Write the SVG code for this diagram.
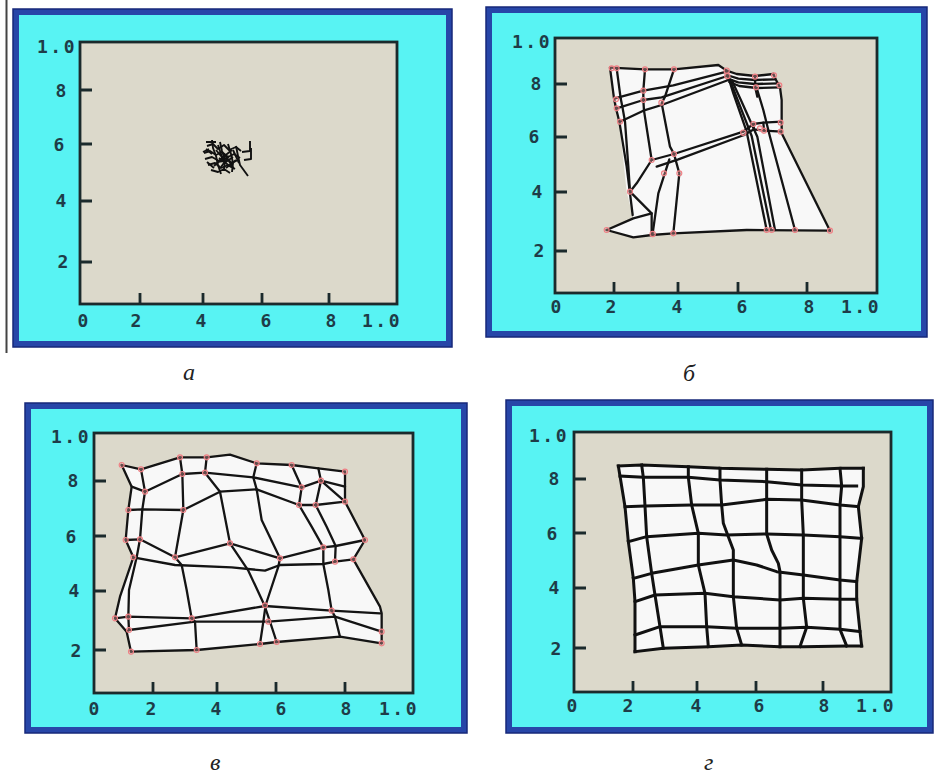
<svg xmlns="http://www.w3.org/2000/svg" width="935" height="775" viewBox="0 0 935 775">
<style>
.page{fill:#ffffff}
.frame{fill:#2746a8;stroke:#17287a;stroke-width:1.5}
.cyan{fill:#58f3f3}
.plot{fill:#dcd9cb;stroke:#1b2a2c;stroke-width:2.8}
.tick{stroke:#1b2a2c;stroke-width:2.8}
.lbl{font-family:"DejaVu Sans Mono",monospace;font-weight:bold;font-size:18px;fill:#1e3c48;text-anchor:middle}
.lbl1{font-family:"DejaVu Sans Mono",monospace;font-weight:bold;font-size:18px;fill:#1e3c48;letter-spacing:2.5px}
.mesh{fill:none;stroke:#141414;stroke-width:2.3;stroke-linejoin:round;stroke-linecap:round;vector-effect:non-scaling-stroke}
.meshd{fill:none;stroke:#111;stroke-width:3;stroke-linejoin:round;stroke-linecap:square;vector-effect:non-scaling-stroke}
.tangle{fill:none;stroke:#111;stroke-width:1.9;stroke-linejoin:round}
.white{fill:#f8f8f8;stroke:none}
.node{fill:#f6b0b0;fill-opacity:0.35;stroke:#ef7f84;stroke-width:1.1;vector-effect:non-scaling-stroke}
.cap{font-family:"Liberation Serif",serif;font-style:italic;font-size:24px;fill:#222}
</style>
<rect class="page" x="0" y="0" width="935" height="775"/>
<line x1="6.5" y1="0" x2="6.5" y2="353" stroke="#444" stroke-width="2"/>

<!-- Panel a -->
<g id="panel-a">
  <rect class="frame" x="13" y="9" width="439" height="338"/>
  <rect class="cyan" x="19" y="15" width="427" height="326"/>
  <rect class="plot" x="80" y="42" width="317" height="262"/>
  <path class="tick" d="M80,90h12M80,144h12M80,201h12M80,262h12M140,304v-11M203,304v-11M262,304v-11M329,304v-11"/>
  <text class="lbl1" x="37" y="53">1.0</text>
  <text class="lbl" x="61" y="97">8</text>
  <text class="lbl" x="59" y="151">6</text>
  <text class="lbl" x="61" y="207">4</text>
  <text class="lbl" x="63" y="268">2</text>
  <text class="lbl" x="83" y="327">0</text>
  <text class="lbl" x="136" y="327">2</text>
  <text class="lbl" x="201" y="327">4</text>
  <text class="lbl" x="266" y="327">6</text>
  <text class="lbl" x="331" y="327">8</text>
  <text class="lbl1" x="362" y="327">1.0</text>
  <g id="tangle">
    <path class="tangle" d="M207,146 L213,144 L218,149 L224,145 L229,150 L236,147 L241,151"/>
    <path class="tangle" d="M204,153 L210,151 L216,155 L222,152 L228,157 L234,154 L240,158"/>
    <path class="tangle" d="M205,159 L212,157 L219,161 L226,158 L232,163 L238,160"/>
    <path class="tangle" d="M208,165 L215,163 L221,168 L228,165 L235,169"/>
    <path class="tangle" d="M211,170 L218,172 L224,169 L230,173"/>
    <path class="tangle" d="M212,140 L213,148 L216,156 L218,165 L221,174"/>
    <path class="tangle" d="M220,142 L222,151 L225,160 L224,170"/>
    <path class="tangle" d="M228,144 L231,154 L233,163 L232,172"/>
    <path class="tangle" d="M236,146 L238,156 L240,165 L248,176"/>
    <path class="tangle" d="M242,152 L250,151 L250,141"/>
    <path class="tangle" d="M244,160 L251,159 L251,148"/>
    <path class="tangle" d="M216,150 L226,162 M222,158 L232,150 M214,166 L224,156 M226,168 L236,160 M209,149 L203,152 M206,142 L216,142 M206,149 L212,154 M207,162 L214,168 M233,150 L239,163 M218,145 L222,157"/>
    <path class="tangle" d="M219,158 L231,167 M223,164 L233,157 M225,155 L234,169 M217,162 L230,160 M221,167 L229,156" stroke-width="3"/>
  </g>
</g>

<!-- Panel b -->
<g id="panel-b">
  <rect class="frame" x="486" y="7" width="441" height="330"/>
  <rect class="cyan" x="492" y="13" width="429" height="318"/>
  <rect class="plot" x="555" y="38" width="322" height="255"/>
  <path class="tick" d="M555,84h12M555,137h12M555,192h12M555,251h12M614,293v-11M678,293v-11M738,293v-11M807,293v-11"/>
  <text class="lbl1" x="512" y="48">1.0</text>
  <text class="lbl" x="536" y="90">8</text>
  <text class="lbl" x="534" y="143">6</text>
  <text class="lbl" x="537" y="198">4</text>
  <text class="lbl" x="539" y="257">2</text>
  <text class="lbl" x="556" y="313">0</text>
  <text class="lbl" x="611" y="313">2</text>
  <text class="lbl" x="677" y="313">4</text>
  <text class="lbl" x="742" y="313">6</text>
  <text class="lbl" x="809" y="313">8</text>
  <text class="lbl1" x="841" y="313">1.0</text>
  <g id="mesh-b" transform="translate(470,0) scale(0.33333)">
    <polygon class="white" points="420,203 525,208 612,208 745,195 770,210 800,222 855,228 910,222 918,240 930,262 935,300 935,400 1080,692 890,690 830,690 610,700 545,705 490,712 410,690 490,655 470,575 448,365 432,295"/>
    <polyline class="mesh" points="420,203 525,208 612,208 745,195 770,212"/>
    <polyline class="mesh" points="770,212 800,222 855,228 910,222"/>
    <polyline class="mesh" points="770,225 805,236 855,240 915,238"/>
    <polyline class="mesh" points="772,236 805,247 855,252 925,250"/>
    <polyline class="mesh" points="778,246 808,258 860,264 930,262"/>
    <polyline class="mesh" points="910,222 918,240 930,262 935,300 935,400"/>
    <polyline class="mesh" points="855,228 856,264 862,290"/>
    <polyline class="mesh" points="420,203 432,295 438,325 448,365 470,500 488,645"/>
    <polyline class="mesh" points="440,205 452,295 458,325 465,365 475,500 480,575"/>
    <polyline class="mesh" points="435,295 520,272 610,256 770,215"/>
    <polyline class="mesh" points="440,325 520,300 575,292 772,228"/>
    <polyline class="mesh" points="450,365 520,332 575,315 775,240"/>
    <polyline class="mesh" points="525,208 520,272 520,300 522,332 545,480"/>
    <polyline class="mesh" points="612,208 585,290 575,310 600,440 612,462 628,520 610,700"/>
    <polyline class="mesh" points="545,480 612,462 820,395"/>
    <polyline class="mesh" points="560,500 625,478 822,405"/>
    <polyline class="mesh" points="545,480 500,550 480,575"/>
    <polyline class="mesh" points="480,575 545,640 545,705"/>
    <polyline class="mesh" points="598,478 565,580 548,700"/>
    <polyline class="mesh" points="410,690 490,655 545,640"/>
    <polyline class="mesh" points="410,690 490,712 545,705 610,700 830,690 1080,692"/>
    <polyline class="mesh" points="770,215 790,280 830,395 890,690"/>
    <polyline class="mesh" points="775,228 800,292 845,408 903,690"/>
    <polyline class="mesh" points="785,240 815,305 862,410 915,690"/>
    <polyline class="mesh" points="860,264 880,330 900,410 975,690"/>
    <polyline class="mesh" points="935,400 1080,692"/>
    <polyline class="mesh" points="820,395 850,372 880,368 935,365"/>
    <polyline class="mesh" points="822,405 852,388 882,392 935,395"/>
    <polyline class="mesh" points="850,372 852,388"/>
    <polyline class="mesh" points="880,368 882,392"/>
    <g id="nodes-b">
      <circle class="node" cx="425" cy="205" r="7.5"/><circle class="node" cx="440" cy="205" r="7.5"/>
      <circle class="node" cx="525" cy="208" r="7.5"/><circle class="node" cx="612" cy="208" r="7.5"/>
      <circle class="node" cx="770" cy="212" r="8"/><circle class="node" cx="772" cy="228" r="8"/>
      <circle class="node" cx="855" cy="230" r="7.5"/><circle class="node" cx="858" cy="262" r="7.5"/>
      <circle class="node" cx="912" cy="226" r="7.5"/><circle class="node" cx="928" cy="256" r="7.5"/>
      <circle class="node" cx="438" cy="298" r="7.5"/><circle class="node" cx="440" cy="325" r="7.5"/>
      <circle class="node" cx="450" cy="365" r="7.5"/><circle class="node" cx="520" cy="300" r="7.5"/>
      <circle class="node" cx="520" cy="272" r="7.5"/><circle class="node" cx="574" cy="308" r="7.5"/>
      <circle class="node" cx="820" cy="398" r="8"/><circle class="node" cx="850" cy="372" r="7.5"/>
      <circle class="node" cx="870" cy="385" r="7.5"/><circle class="node" cx="882" cy="392" r="7.5"/>
      <circle class="node" cx="932" cy="368" r="7.5"/><circle class="node" cx="932" cy="395" r="7.5"/>
      <circle class="node" cx="545" cy="480" r="7.5"/><circle class="node" cx="582" cy="520" r="7.5"/>
      <circle class="node" cx="612" cy="462" r="7.5"/><circle class="node" cx="628" cy="520" r="7.5"/>
      <circle class="node" cx="480" cy="575" r="7.5"/><circle class="node" cx="548" cy="702" r="8"/>
      <circle class="node" cx="610" cy="700" r="7.5"/><circle class="node" cx="890" cy="690" r="7.5"/>
      <circle class="node" cx="905" cy="690" r="7.5"/><circle class="node" cx="975" cy="690" r="7.5"/>
      <circle class="node" cx="1080" cy="692" r="7.5"/><circle class="node" cx="410" cy="690" r="7.5"/>
    </g>
  </g>
</g>

<!-- Panel c -->
<g id="panel-c">
  <rect class="frame" x="25" y="403" width="442" height="330"/>
  <rect class="cyan" x="31" y="409" width="430" height="318"/>
  <rect class="plot" x="94" y="433" width="319" height="260"/>
  <path class="tick" d="M94,481h12M94,536h12M94,591h12M94,650h12M153,693v-11M217,693v-11M276,693v-11M345,693v-11"/>
  <text class="lbl1" x="51" y="443">1.0</text>
  <text class="lbl" x="73" y="487">8</text>
  <text class="lbl" x="71" y="543">6</text>
  <text class="lbl" x="74" y="597">4</text>
  <text class="lbl" x="76" y="657">2</text>
  <text class="lbl" x="94" y="715">0</text>
  <text class="lbl" x="151" y="715">2</text>
  <text class="lbl" x="216" y="715">4</text>
  <text class="lbl" x="281" y="715">6</text>
  <text class="lbl" x="346" y="715">8</text>
  <text class="lbl1" x="379" y="715">1.0</text>
  <g id="mesh-c" transform="translate(105,450) scale(0.33333)">
    <polygon class="white" points="50,45 108,58 225,22 305,22 375,14 455,40 560,45 640,55 720,65 720,155 780,270 745,328 825,470 830,545 830,580 705,560 515,576 465,582 275,600 78,605 65,545 30,505 45,440 85,322 62,270 70,180 80,110"/>
    <polyline class="mesh" points="50,45 108,58 225,22 305,22 375,14 455,40 560,45 640,55 720,65"/>
    <polyline class="mesh" points="80,110 120,125 232,72 300,68 445,82 590,112 648,92 720,110"/>
    <polyline class="mesh" points="70,180 112,178 235,180 345,125 455,118 582,165 632,165 720,155"/>
    <polyline class="mesh" points="62,270 105,268 210,322 375,280 525,325 655,292 692,288 780,270"/>
    <polyline class="mesh" points="85,322 210,345 380,352 480,362 525,345 655,342 690,335 745,328"/>
    <polyline class="mesh" points="30,505 70,500 260,505 480,468 680,482 825,490"/>
    <polyline class="mesh" points="65,545 72,540 270,515 490,515 690,500 830,545"/>
    <polyline class="mesh" points="78,605 275,600 465,582 515,576 705,560 830,580"/>
    <polyline class="mesh" points="50,45 80,110 70,180 62,270 85,322 45,440 30,505 65,545 78,605"/>
    <polyline class="mesh" points="108,58 120,125 112,178 105,268 95,322 72,420 70,500 72,540"/>
    <polyline class="mesh" points="225,22 232,72 235,180 210,322 230,345 245,420 260,505 270,515 275,600"/>
    <polyline class="mesh" points="305,22 300,68 345,125 375,280 430,362 478,465 495,515 515,576"/>
    <polyline class="mesh" points="455,40 445,82 455,118 470,210 525,325 520,350 482,465 475,515 465,582"/>
    <polyline class="mesh" points="560,45 590,112 582,165 620,230 655,292 655,342 670,420 680,482 690,500 705,560"/>
    <polyline class="mesh" points="640,55 648,92 632,165 665,230 692,288 690,335"/>
    <polyline class="mesh" points="648,92 720,155"/>
    <polyline class="mesh" points="720,65 720,155 780,270 745,328 825,470 830,490 830,545 830,580"/>
    <g id="nodes-c">
      <circle class="node" cx="50" cy="45" r="7.5"/><circle class="node" cx="108" cy="58" r="7.5"/>
      <circle class="node" cx="225" cy="22" r="7.5"/><circle class="node" cx="305" cy="22" r="7.5"/>
      <circle class="node" cx="455" cy="40" r="7.5"/><circle class="node" cx="560" cy="45" r="7.5"/>
      <circle class="node" cx="720" cy="65" r="7.5"/><circle class="node" cx="120" cy="125" r="7.5"/>
      <circle class="node" cx="232" cy="72" r="7.5"/><circle class="node" cx="300" cy="68" r="7.5"/>
      <circle class="node" cx="590" cy="112" r="7.5"/><circle class="node" cx="648" cy="92" r="7.5"/>
      <circle class="node" cx="70" cy="180" r="7.5"/><circle class="node" cx="235" cy="180" r="7.5"/>
      <circle class="node" cx="582" cy="165" r="7.5"/><circle class="node" cx="632" cy="165" r="7.5"/>
      <circle class="node" cx="720" cy="155" r="7.5"/><circle class="node" cx="62" cy="270" r="7.5"/>
      <circle class="node" cx="105" cy="268" r="7.5"/><circle class="node" cx="210" cy="322" r="7.5"/>
      <circle class="node" cx="375" cy="280" r="7.5"/><circle class="node" cx="525" cy="325" r="7.5"/>
      <circle class="node" cx="655" cy="292" r="7.5"/><circle class="node" cx="780" cy="270" r="7.5"/>
      <circle class="node" cx="85" cy="322" r="7.5"/><circle class="node" cx="745" cy="328" r="7.5"/>
      <circle class="node" cx="690" cy="335" r="7.5"/><circle class="node" cx="30" cy="505" r="7.5"/>
      <circle class="node" cx="70" cy="500" r="7.5"/><circle class="node" cx="260" cy="505" r="7.5"/>
      <circle class="node" cx="480" cy="466" r="7.5"/><circle class="node" cx="680" cy="482" r="7.5"/>
      <circle class="node" cx="72" cy="540" r="7.5"/><circle class="node" cx="490" cy="515" r="7.5"/>
      <circle class="node" cx="830" cy="545" r="7.5"/><circle class="node" cx="78" cy="605" r="7.5"/>
      <circle class="node" cx="275" cy="600" r="7.5"/><circle class="node" cx="465" cy="582" r="7.5"/>
      <circle class="node" cx="515" cy="576" r="7.5"/><circle class="node" cx="830" cy="580" r="7.5"/>
    </g>
  </g>
</g>

<!-- Panel d -->
<g id="panel-d">
  <rect class="frame" x="506" y="400" width="427" height="333"/>
  <rect class="cyan" x="512" y="406" width="415" height="321"/>
  <rect class="plot" x="574" y="432" width="317" height="260"/>
  <path class="tick" d="M574,479h12M574,533h12M574,588h12M574,648h12M633,692v-11M697,692v-11M756,692v-11M823,692v-11"/>
  <text class="lbl1" x="529" y="442">1.0</text>
  <text class="lbl" x="554" y="485">8</text>
  <text class="lbl" x="552" y="540">6</text>
  <text class="lbl" x="554" y="594">4</text>
  <text class="lbl" x="556" y="655">2</text>
  <text class="lbl" x="572" y="712">0</text>
  <text class="lbl" x="628" y="712">2</text>
  <text class="lbl" x="696" y="712">4</text>
  <text class="lbl" x="759" y="712">6</text>
  <text class="lbl" x="824" y="712">8</text>
  <text class="lbl1" x="856" y="712">1.0</text>
  <g id="mesh-d" transform="translate(470,390) scale(0.33333)">
    <polygon class="white" points="445,228 515,225 655,230 750,235 890,238 995,240 1110,235 1180,235 1180,290 1165,350 1175,445 1160,575 1160,628 1170,725 1175,768 1130,768 1000,770 930,770 815,765 715,770 580,775 495,785 495,735 495,635 490,565 475,455 465,350 450,258"/>
    <polyline class="meshd" points="445,228 515,225 655,230 750,235 890,238 995,240 1110,235 1180,235"/>
    <polyline class="meshd" points="450,258 520,262 655,262 750,270 890,275 995,285 1115,288 1160,288"/>
    <polyline class="meshd" points="465,350 525,348 665,345 755,345 890,328 995,330 1110,345 1165,350"/>
    <polyline class="meshd" points="475,455 530,440 685,430 770,435 890,432 1000,435 1110,440 1175,445"/>
    <polyline class="meshd" points="490,565 545,550 685,525 790,510 860,525 920,545 1000,555 1110,570 1160,575"/>
    <polyline class="meshd" points="495,635 555,615 705,610 790,620 930,630 1000,625 1110,628 1160,628"/>
    <polyline class="meshd" points="495,735 570,710 710,710 800,715 930,715 1010,712 1110,718 1170,725"/>
    <polyline class="meshd" points="495,785 580,775 715,770 815,765 930,770 1000,770 1130,768 1175,768"/>
    <polyline class="meshd" points="445,228 450,258 465,350 475,455 490,565 495,635 495,735 495,785"/>
    <polyline class="meshd" points="515,225 520,262 525,348 530,440 545,550 555,615 570,710 580,775"/>
    <polyline class="meshd" points="655,230 655,262 665,345 685,430 685,525 705,610 710,710 715,770"/>
    <polyline class="meshd" points="750,235 750,270 755,345 760,400 775,440 790,480 790,510 790,620 800,715 815,765"/>
    <polyline class="meshd" points="890,238 890,275 890,328 890,432 905,480 925,520 930,545 930,630 930,715 930,770"/>
    <polyline class="meshd" points="995,240 995,285 995,330 1000,435 1000,555 1000,625 1010,712 990,770"/>
    <polyline class="meshd" points="1110,235 1115,288 1110,345 1110,440 1110,570 1110,628 1110,718 1130,768"/>
    <polyline class="meshd" points="1180,235 1180,290 1165,350 1175,445 1160,575 1160,628 1170,725 1175,768"/>
  </g>
</g>

<g id="captions">
  <text class="cap" x="183" y="380">а</text>
  <text class="cap" x="683" y="381">б</text>
  <text class="cap" x="210" y="770">в</text>
  <text class="cap" x="704" y="770">г</text>
</g>
</svg>
